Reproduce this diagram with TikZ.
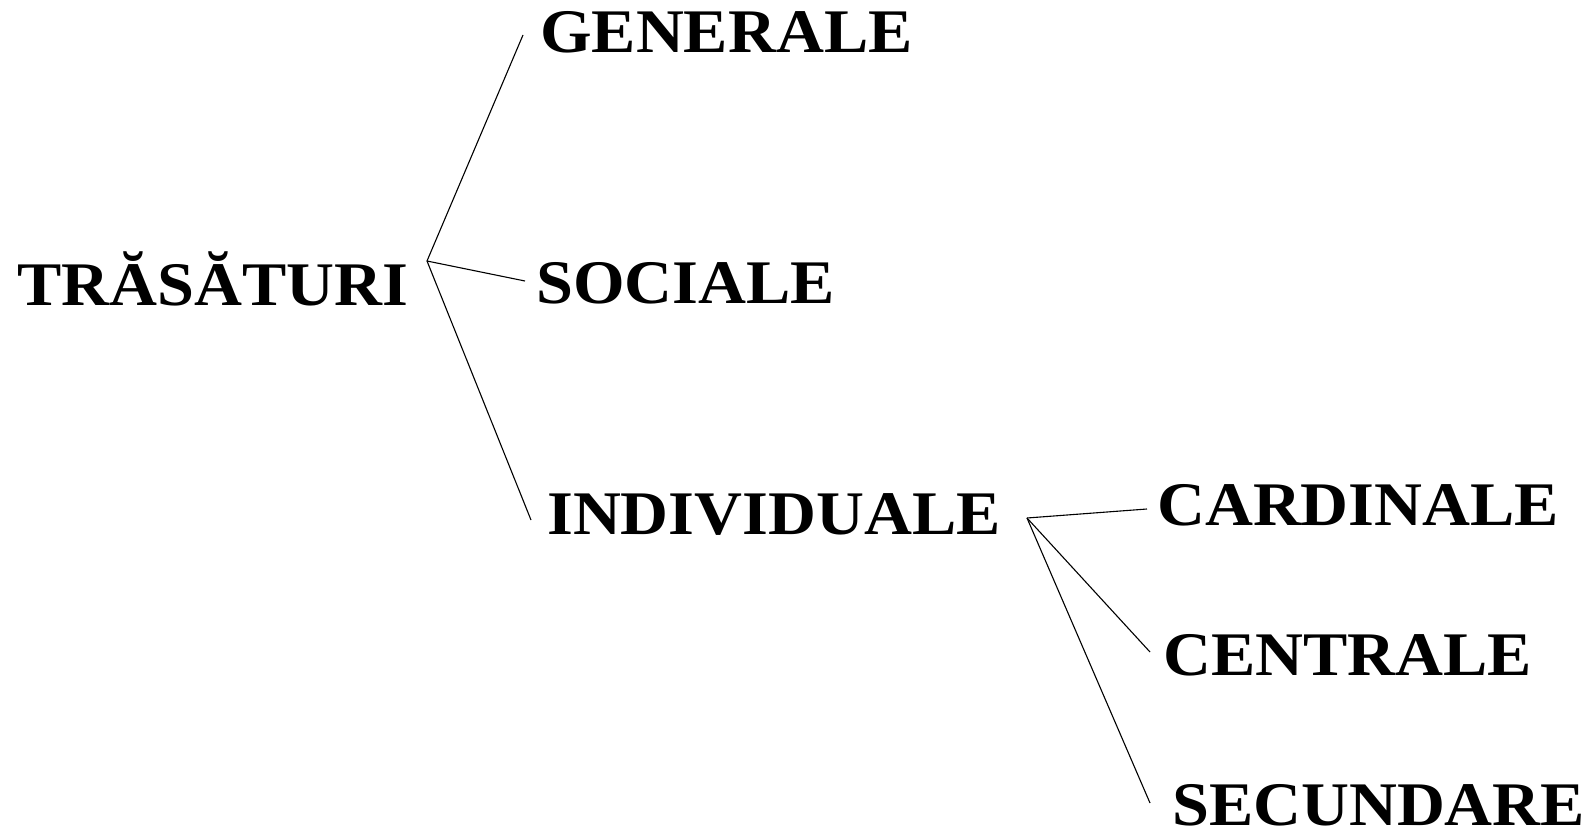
\documentclass[tikz,border=0pt]{standalone}
\usepackage{fontspec}
\setmainfont{Liberation Serif}
\begin{document}
\begin{tikzpicture}[x=1pt,y=-1pt,
  lbl/.style={anchor=base west, inner sep=0pt, font=\fontsize{62}{62}\selectfont\bfseries},
  conn/.style={draw=black, line width=1.1pt}]
\useasboundingbox (0,0) rectangle (1590,832);
\node[lbl] (tr)  at (17,305)  {\scalebox{1.07}[1]{TRĂSĂTURI}};
\node[lbl] (gen) at (540,53)  {\scalebox{1.07}[1]{GENERALE}};
\node[lbl] (soc) at (536,303) {\scalebox{1.07}[1]{SOCIALE}};
\node[lbl] (ind) at (547,534) {\scalebox{1.07}[1]{INDIVIDUALE}};
\node[lbl] (car) at (1157,525) {\scalebox{1.07}[1]{CARDINALE}};
\node[lbl] (cen) at (1163,675) {\scalebox{1.07}[1]{CENTRALE}};
\node[lbl] (sec) at (1172,825) {\scalebox{1.07}[1]{SECUNDARE}};
\coordinate (b1) at (427,261);
\coordinate (b2) at (1027,518);
\coordinate (eg) at (523,35);
\coordinate (es) at (525,281);
\coordinate (ei) at (531,520);
\coordinate (ec) at (1147,509);
\coordinate (ee) at (1150,652);
\coordinate (eu) at (1150,803);
\draw[conn] (b1) -- (eg);
\draw[conn] (b1) -- (es);
\draw[conn] (b1) -- (ei);
\draw[conn] (b2) -- (ec);
\draw[conn] (b2) -- (ee);
\draw[conn] (b2) -- (eu);
\end{tikzpicture}
\end{document}
